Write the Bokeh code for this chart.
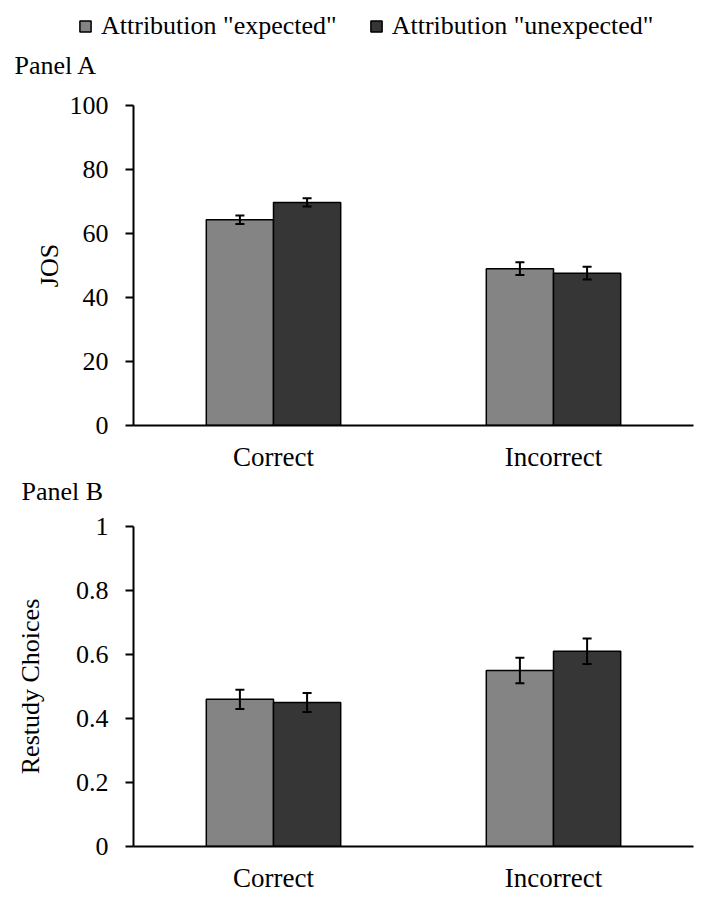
from bokeh.plotting import figure
from bokeh.layouts import column
from bokeh.models import (ColumnDataSource, FactorRange, Range1d, Whisker, TeeHead,
                          Legend, LegendItem, FixedTicker, Title)
from bokeh.transform import dodge
from bokeh.embed import file_html
from bokeh.resources import INLINE

categories = ["Correct", "Incorrect"]
series = ['Attribution "expected"', 'Attribution "unexpected"']

jos_expected = [64.3, 49.0]
jos_expected_err = [1.3, 2.0]
jos_unexpected = [69.7, 47.6]
jos_unexpected_err = [1.3, 2.0]

restudy_expected = [0.46, 0.55]
restudy_expected_err = [0.03, 0.04]
restudy_unexpected = [0.45, 0.61]
restudy_unexpected_err = [0.03, 0.04]

jos_ticks = [0, 20, 40, 60, 80, 100]
restudy_ticks = [0, 0.2, 0.4, 0.6, 0.8, 1.0]
restudy_tick_labels = {0: "0", 0.2: "0.2", 0.4: "0.4", 0.6: "0.6", 0.8: "0.8", 1.0: "1"}

FONT = "Liberation Serif"
FS = "26px"
C_EXP = "#848484"
C_UNEXP = "#363636"
BL, BR = 133, 27


def panel_title(text, offset, standoff, valign):
    return Title(text=text, align="left", offset=offset, standoff=standoff,
                 vertical_align=valign, text_font=FONT, text_font_size=FS,
                 text_font_style="normal", text_color="black")


# ---- legend strip (proxy renderers hold no visible data) ----
pl = figure(width=720, height=86, output_backend="svg", toolbar_location=None,
            x_range=Range1d(0, 1), y_range=Range1d(0, 1),
            min_border_left=0, min_border_right=0, min_border_top=0, min_border_bottom=0)
pl.axis.visible = False
pl.grid.visible = False
pl.outline_line_color = None
nan = float("nan")
proxy = ColumnDataSource(dict(x=[nan], top=[nan]))
lr1 = pl.vbar(x="x", top="top", width=0.1, source=proxy, fill_color=C_EXP, line_color="black", line_width=1.5)
lr2 = pl.vbar(x="x", top="top", width=0.1, source=proxy, fill_color=C_UNEXP, line_color="black", line_width=1.5)
lg = Legend(items=[LegendItem(label=series[0], renderers=[lr1]),
                   LegendItem(label=series[1], renderers=[lr2])],
            orientation="horizontal", location=(78, 0),
            padding=0, margin=0, spacing=32, label_standoff=9,
            glyph_width=14, glyph_height=14,
            label_text_font=FONT, label_text_font_size=FS, label_text_color="black",
            border_line_color=None, background_fill_alpha=0)
pl.add_layout(lg, "center")
pl.add_layout(panel_title("Panel A", 14, 14, "bottom"), "below")


def make_panel(vals_e, err_e, vals_u, err_u, ymax, ticks, ylabel, height,
               bt, bb, label_standoff, overrides=None):
    p = figure(x_range=FactorRange(*categories, range_padding=0),
               y_range=Range1d(0, ymax), width=720, height=height,
               output_backend="svg", toolbar_location=None,
               min_border_left=BL, min_border_right=BR,
               min_border_top=bt, min_border_bottom=bb)
    p.outline_line_color = None
    p.xgrid.grid_line_color = None
    p.ygrid.grid_line_color = None
    p.background_fill_color = "white"

    src = ColumnDataSource(dict(
        cat=categories,
        e=vals_e, e_lo=[v - d for v, d in zip(vals_e, err_e)], e_hi=[v + d for v, d in zip(vals_e, err_e)],
        u=vals_u, u_lo=[v - d for v, d in zip(vals_u, err_u)], u_hi=[v + d for v, d in zip(vals_u, err_u)],
    ))
    p.vbar(x=dodge("cat", -0.12, range=p.x_range), top="e", width=0.24, source=src,
           fill_color=C_EXP, line_color="black", line_width=1.5)
    p.vbar(x=dodge("cat", 0.12, range=p.x_range), top="u", width=0.24, source=src,
           fill_color=C_UNEXP, line_color="black", line_width=1.5)
    for off, lo, hi in ((-0.12, "e_lo", "e_hi"), (0.12, "u_lo", "u_hi")):
        w = Whisker(base=dodge("cat", off, range=p.x_range), lower=lo, upper=hi, source=src,
                    level="overlay", line_color="black", line_width=2,
                    upper_head=TeeHead(size=9, line_width=2, line_color="black"),
                    lower_head=TeeHead(size=9, line_width=2, line_color="black"))
        p.add_layout(w)

    ax = p.xaxis[0]
    ax.axis_line_color = "black"
    ax.axis_line_width = 2
    ax.major_tick_line_color = None
    ax.minor_tick_line_color = None
    ax.major_label_text_font = FONT
    ax.major_label_text_font_size = "27px"
    ax.major_label_text_color = "black"
    ax.major_label_standoff = 10

    ay = p.yaxis[0]
    ay.ticker = FixedTicker(ticks=ticks)
    if overrides:
        ay.major_label_overrides = overrides
    ay.axis_line_color = "black"
    ay.axis_line_width = 2
    ay.major_tick_out = 8
    ay.major_tick_in = 0
    ay.major_tick_line_width = 2
    ay.minor_tick_line_color = None
    ay.major_label_text_font = FONT
    ay.major_label_text_font_size = FS
    ay.major_label_text_color = "black"
    ay.major_label_standoff = 17
    ay.axis_label = ylabel
    ay.axis_label_text_font = FONT
    ay.axis_label_text_font_size = FS
    ay.axis_label_text_font_style = "normal"
    ay.axis_label_text_color = "black"
    ay.axis_label_standoff = label_standoff
    return p


pa = make_panel(jos_expected, jos_expected_err, jos_unexpected, jos_unexpected_err,
                100, jos_ticks, "JOS", 420, 19, 81, 3)
pa.add_layout(panel_title("Panel B", -112, 0, "bottom"), "below")
pb = make_panel(restudy_expected, restudy_expected_err, restudy_unexpected, restudy_unexpected_err,
                1.0, restudy_ticks, "Restudy Choices", 389, 20, 49, 28,
                overrides=restudy_tick_labels)

layout = column(column(pl), column(pa, pb, spacing=0), spacing=0)
open("out.html", "w").write(file_html(layout, INLINE))
